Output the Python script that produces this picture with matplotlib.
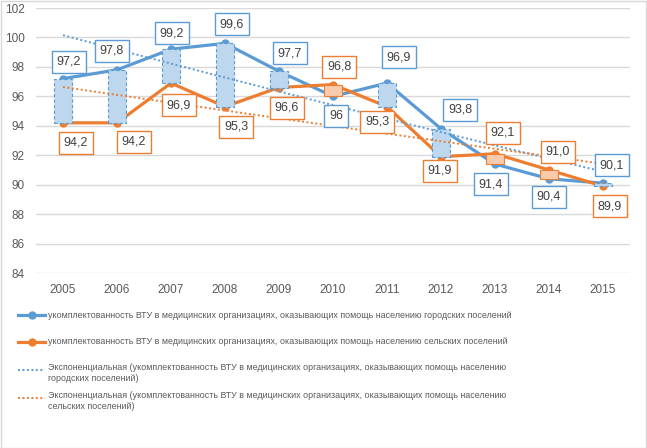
import numpy as np
import matplotlib
matplotlib.use("Agg")
import matplotlib.pyplot as plt
from matplotlib.lines import Line2D
from matplotlib.patches import Rectangle

plt.rcParams['font.family'] = ['Liberation Sans', 'DejaVu Sans']

# data
years = [2005, 2006, 2007, 2008, 2009, 2010, 2011, 2012, 2013, 2014, 2015]
urban = [97.2, 97.8, 99.2, 99.6, 97.7, 96.0, 96.9, 93.8, 91.4, 90.4, 90.1]
rural = [94.2, 94.2, 96.9, 95.3, 96.6, 96.8, 95.3, 91.9, 92.1, 91.0, 89.9]
urban_lbl = ['97,2', '97,8', '99,2', '99,6', '97,7', '96', '96,9', '93,8', '91,4', '90,4', '90,1']
rural_lbl = ['94,2', '94,2', '96,9', '95,3', '96,6', '96,8', '95,3', '91,9', '92,1', '91,0', '89,9']
yticks = list(range(84, 103, 2))

leg_names = [
    'укомплектованность ВТУ в медицинских организациях, оказывающих помощь населению городских поселений',
    'укомплектованность ВТУ в медицинских организациях, оказывающих помощь населению сельских поселений',
    'Экспоненциальная (укомплектованность ВТУ в медицинских организациях, оказывающих помощь населению\nгородских поселений)',
    'Экспоненциальная (укомплектованность ВТУ в медицинских организациях, оказывающих помощь населению\nсельских поселений)',
]

# label offsets in pixels (dx, dy) relative to point
urban_off = [(6, 17), (-5, 19), (1, 16), (7, 19), (11, 18), (3, -20), (12, 26), (19, 19), (-4, -20), (0, -18), (9, 18)]
rural_off = [(13, -20), (17, -19), (8, -22), (11, -20), (8, -20), (6, 18), (-10, -15), (-1, -14), (8, 21), (9, 18), (7, -20)]

BLUE = '#5B9BD5'
ORANGE = '#ED7D31'

fig = plt.figure(figsize=(6.47, 4.48), dpi=100)
fig.add_artist(Rectangle((0.5 / 647, 0.5 / 448), 1 - 1.5 / 647, 1 - 1.5 / 448, transform=fig.transFigure,
                         fill=False, edgecolor='#D9D9D9', lw=1))
ax = fig.add_axes([36 / 647, 1 - 273 / 448, (630 - 36) / 647, (273 - 8) / 448])

x = np.arange(len(years))
u = np.array(urban)
r = np.array(rural)

# series lines
ax.plot(x, u, color=BLUE, lw=2.3, marker='o', ms=5, zorder=2, solid_capstyle='round')
ax.plot(x, r, color=ORANGE, lw=2.3, marker='o', ms=5, zorder=2, solid_capstyle='round')

# up/down bars
w = 0.33
for i in range(len(x)):
    lo, hi = min(u[i], r[i]), max(u[i], r[i])
    if u[i] >= r[i]:
        rect = Rectangle((x[i] - w / 2, lo), w, hi - lo, facecolor='#BDD7EE', edgecolor=BLUE,
                         lw=0.8, ls=(0, (3, 2)), zorder=3)
    else:
        rect = Rectangle((x[i] - w / 2, lo), w, hi - lo, facecolor='#F8CBAD', edgecolor=ORANGE,
                         lw=0.8, zorder=3)
    ax.add_patch(rect)

# exponential trendlines (fit on log of values)
for vals, col in [(u, BLUE), (r, ORANGE)]:
    k, b = np.polyfit(x + 1, np.log(vals), 1)
    ax.plot(x, np.exp(b + k * (x + 1)), color=col, lw=1.4, ls=(0, (1, 1.3)), zorder=4)

# data labels
for vals, lbls, offs, col in [(u, urban_lbl, urban_off, BLUE), (r, rural_lbl, rural_off, ORANGE)]:
    for i in range(len(x)):
        ax.annotate(lbls[i], (x[i], vals[i]), xytext=(offs[i][0] * 0.72, offs[i][1] * 0.72),
                    textcoords='offset points', ha='center', va='center', fontsize=9, color='#404040',
                    bbox=dict(boxstyle='square,pad=0.4', fc='white', ec=col, lw=1), zorder=5)

ax.set_xlim(-0.5, len(x) - 0.5)
ax.set_ylim(84, 102)
ax.set_yticks(yticks)
ax.set_xticks(x)
ax.set_xticklabels([str(y) for y in years])
ax.tick_params(length=0, labelsize=8.5, colors='#595959')
ax.tick_params(axis='y', pad=8)
ax.tick_params(axis='x', pad=8)
ax.grid(axis='y', color='#D9D9D9', lw=1)
ax.set_axisbelow(True)
for s in ax.spines.values():
    s.set_visible(False)

# legend, drawn by hand; font size fitted so the first entry is ~465 px wide
renderer = fig.canvas.get_renderer()
probe = fig.text(0, 0, leg_names[0], fontsize=10)
pw = probe.get_window_extent(renderer).width
probe.remove()
leg_fs = 10 * 465 / pw

leg_y = [315, 342, 370, 398]
styles = [
    dict(color=BLUE, lw=2.3, marker='o', ms=5),
    dict(color=ORANGE, lw=2.3, marker='o', ms=5),
    dict(color=BLUE, lw=1.4, ls=(0, (1, 1.3))),
    dict(color=ORANGE, lw=1.4, ls=(0, (1, 1.3))),
]
for yy, name, st in zip(leg_y, leg_names, styles):
    fy = 1 - yy / 448
    fig.add_artist(Line2D([18 / 647, 31.5 / 647, 45 / 647], [fy, fy, fy], transform=fig.transFigure,
                          markevery=[1] if 'marker' in st else None, **st))
    if '\n' in name:
        fig.text(48 / 647, fy + 7 / 448, name, ha='left', va='top', fontsize=leg_fs, color='#595959',
                 linespacing=1.3)
    else:
        fig.text(48 / 647, fy, name, ha='left', va='center', fontsize=leg_fs, color='#595959')

fig.savefig('out.png', dpi=100)
